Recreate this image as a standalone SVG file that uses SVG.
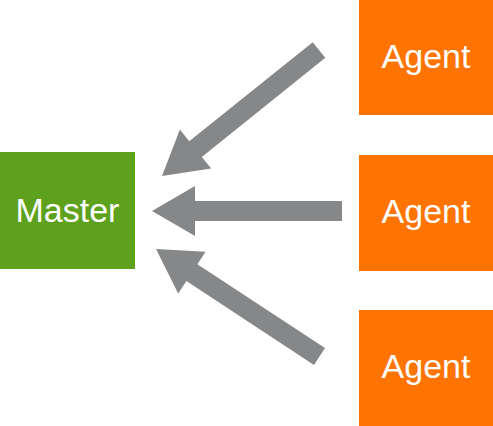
<svg xmlns="http://www.w3.org/2000/svg" width="493" height="426" viewBox="0 0 493 426">
  <style>
    .master { fill: #5ea11c; }
    .agent { fill: #ff7300; }
    .label { fill: #ffffff; font-family: "Liberation Sans", Arial, sans-serif; font-size: 34px; text-anchor: middle; }
    .arrow { fill: #858789; }
  </style>
  <rect width="493" height="426" fill="#ffffff"/>
  <g id="connectors">
    <polygon class="arrow" points="162,176 179.9,129.6 189.2,141.3 312.7,42.2 325.3,57.8 201.8,156.9 211.2,168.6"/>
    <polygon class="arrow" points="152,211 195,186 195,201 342,201 342,221 195,221 195,236"/>
    <polygon class="arrow" points="156,249 205.6,251.7 197.4,264.2 325,348.1 314,364.9 186.4,281 178.2,293.5"/>
  </g>
  <g id="master">
    <rect class="master" x="0" y="152" width="135" height="117"/>
    <text class="label" x="67.5" y="222">Master</text>
  </g>
  <g id="agent1">
    <rect class="agent" x="359" y="0" width="134" height="115"/>
    <text class="label" x="426" y="68">Agent</text>
  </g>
  <g id="agent2">
    <rect class="agent" x="359" y="155" width="134" height="116"/>
    <text class="label" x="426" y="223">Agent</text>
  </g>
  <g id="agent3">
    <rect class="agent" x="359" y="310" width="134" height="116"/>
    <text class="label" x="426" y="378">Agent</text>
  </g>
</svg>
